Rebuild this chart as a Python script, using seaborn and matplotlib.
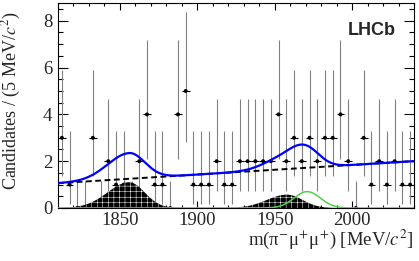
import numpy as np
import pandas as pd
import matplotlib
matplotlib.use("Agg")
import matplotlib.pyplot as plt
import seaborn as sns
from matplotlib.ticker import MultipleLocator

# ---------------- data ----------------
mass_min, mass_max, bin_width = 1810.0, 2040.0, 5.0
counts = [3, 1, 0, 0, 3, 0, 2, 1, 1, 0,
          2, 4, 1, 1, 0, 4, 5, 1, 1, 1,
          2, 1, 1, 2, 2, 2, 2, 2, 4, 2,
          3, 2, 3, 2, 3, 3, 4, 2, 0, 3,
          1, 2, 1, 2, 1, 1]
# Poisson 68% intervals (RooFit convention) indexed by count
poisson_low = [0.0, 0.173, 0.708, 1.367, 2.086, 2.840]
poisson_high = [1.148, 3.300, 4.638, 5.918, 7.163, 8.382]

# fit components
bkg_at_min, bkg_slope = 1.06, 0.0041
peak1 = dict(mean=1856.0, sig_l=14.0, sig_r=10.0, amp=1.10)   # black hatched
peak2 = dict(mean=1958.0, sig_l=13.0, sig_r=10.0, amp=0.57)   # black hatched
peak3 = dict(mean=1971.0, sig_l=8.5, sig_r=8.5, amp=0.70)     # green

x_ticks = [1850, 1900, 1950, 2000]
y_ticks = [0, 2, 4, 6, 8]

# ---------------- build ----------------
centers = mass_min + bin_width * (np.arange(len(counts)) + 0.5)
cnt = np.array(counts)
lo = np.array([poisson_low[c] for c in counts])
hi = np.array([poisson_high[c] for c in counts])
df = pd.DataFrame({"m": centers, "n": cnt})

xg = np.linspace(mass_min, mass_max, 800)

def bifur(x, p):
    s = np.where(x < p["mean"], p["sig_l"], p["sig_r"])
    return p["amp"] * np.exp(-0.5 * ((x - p["mean"]) / s) ** 2)

bkg = bkg_at_min + bkg_slope * (xg - mass_min)
c1 = bifur(xg, peak1)
c2 = bifur(xg, peak2)
c3 = bifur(xg, peak3)
total = bkg + c1 + c2 + c3

sns.set_theme(style="ticks")
plt.rcParams["font.family"] = ["Liberation Serif", "DejaVu Serif"]
plt.rcParams["mathtext.fontset"] = "stix"
plt.rcParams["hatch.linewidth"] = 0.35

fig = plt.figure(figsize=(4.19, 2.61), dpi=100)
ax = fig.add_axes([58 / 419, 53 / 261, 356 / 419, 205 / 261])

# data points
ax.errorbar(centers, cnt, yerr=[cnt - lo, hi - cnt], fmt="none",
            ecolor="#808080", elinewidth=0.8, zorder=2)
ax.errorbar(centers, cnt, xerr=bin_width / 2, fmt="none",
            ecolor="black", elinewidth=0.8, zorder=2)
sns.scatterplot(data=df, x="m", y="n", ax=ax, color="black", s=8,
                marker="o", edgecolor="none", zorder=2, clip_on=True)

# hatched peaks
for comp in (c1, c2):
    ax.fill_between(xg, 0, comp, facecolor="black", edgecolor="white",
                    hatch="+++", linewidth=0, zorder=3)

sns.lineplot(x=xg, y=c3, ax=ax, color="#4fd04f", linewidth=1.1, zorder=4, sort=False)
sns.lineplot(x=xg, y=bkg, ax=ax, color="black", linewidth=1.4, zorder=4,
             sort=False).lines[-1].set_dashes((3.0, 1.8))
sns.lineplot(x=xg, y=total, ax=ax, color="#0000ff", linewidth=1.6, zorder=5, sort=False)

ax.set_xlim(mass_min, mass_max)
ax.set_ylim(0, 8.76)
ax.set_xticks(x_ticks)
ax.set_yticks(y_ticks)
ax.xaxis.set_minor_locator(MultipleLocator(10))
ax.yaxis.set_minor_locator(MultipleLocator(0.5))
ax.tick_params(axis="both", which="both", direction="in", top=True, right=True,
               color="black", width=0.8, labelsize=13.5)
ax.tick_params(axis="x", which="major", length=5, pad=3)
ax.tick_params(axis="x", which="minor", length=2.5)
ax.tick_params(axis="y", which="major", length=7, pad=4)
ax.tick_params(axis="y", which="minor", length=3.5)
for s in ax.spines.values():
    s.set_color("black")
    s.set_linewidth(0.8)

ax.set_xlabel(r"m(π$^{-}$μ$^{+}$μ$^{+}$) [MeV/$c^{2}$]", fontsize=13.5, ha="right")
ax.xaxis.set_label_coords(1.0, -0.095)
ax.set_ylabel(r"Candidates / (5 MeV/$c^{2}$)", fontsize=13)
ax.yaxis.set_label_coords(-0.098, 0.525)

ax.text(0.88, 0.866, "LHCb", transform=ax.transAxes, ha="center", va="center",
        fontsize=13, fontweight="bold", family=["Liberation Sans", "DejaVu Sans"])

fig.savefig("out.png", dpi=100)
